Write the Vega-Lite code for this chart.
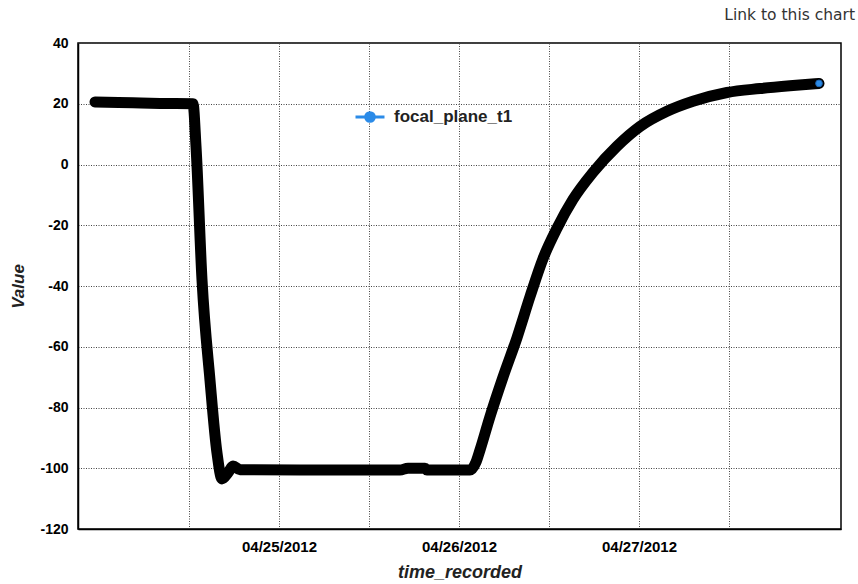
{
  "$schema": "https://vega.github.io/schema/vega-lite/v6.json",
  "width": 763,
  "height": 486,
  "autosize": {"type": "none"},
  "padding": {"left": 78, "top": 43, "right": 17, "bottom": 55},
  "background": "white",
  "title": {
    "text": "Link to this chart",
    "anchor": "end",
    "frame": "group",
    "dx": 14,
    "offset": 13,
    "font": "DejaVu Sans",
    "fontSize": 15.5,
    "fontWeight": "normal",
    "color": "#333333"
  },
  "config": {
    "view": {"stroke": "black", "strokeWidth": 1.5},
    "axis": {
      "domainColor": "black",
      "domainWidth": 1.5,
      "ticks": false,
      "tickSize": 0,
      "gridColor": "#444444",
      "gridDash": [1, 1.5],
      "gridWidth": 1,
      "labelFont": "Liberation Sans",
      "labelFontSize": 14,
      "labelFontWeight": "bold",
      "labelColor": "black",
      "titleFont": "Liberation Sans",
      "titleFontSize": 17,
      "titleFontWeight": "bold",
      "titleFontStyle": "italic",
      "titleColor": "#222222"
    }
  },
  "layer": [
    {
      "data": {
        "values": [
          {"time_recorded": "2012-04-23T23:28:00Z", "value": 20.6, "series": "focal_plane_t1"},
          {"time_recorded": "2012-04-24T04:32:00Z", "value": 20.3, "series": "focal_plane_t1"},
          {"time_recorded": "2012-04-24T08:08:00Z", "value": 20.1, "series": "focal_plane_t1"},
          {"time_recorded": "2012-04-24T12:32:00Z", "value": 20.0, "series": "focal_plane_t1"},
          {"time_recorded": "2012-04-24T12:56:00Z", "value": 6.0, "series": "focal_plane_t1"},
          {"time_recorded": "2012-04-24T13:44:00Z", "value": -38.0, "series": "focal_plane_t1"},
          {"time_recorded": "2012-04-24T14:48:00Z", "value": -71.0, "series": "focal_plane_t1"},
          {"time_recorded": "2012-04-24T15:44:00Z", "value": -95.0, "series": "focal_plane_t1"},
          {"time_recorded": "2012-04-24T16:24:00Z", "value": -103.5, "series": "focal_plane_t1"},
          {"time_recorded": "2012-04-24T17:12:00Z", "value": -101.5, "series": "focal_plane_t1"},
          {"time_recorded": "2012-04-24T17:52:00Z", "value": -99.3, "series": "focal_plane_t1"},
          {"time_recorded": "2012-04-24T18:48:00Z", "value": -100.5, "series": "focal_plane_t1"},
          {"time_recorded": "2012-04-25T02:48:00Z", "value": -100.6, "series": "focal_plane_t1"},
          {"time_recorded": "2012-04-25T16:08:00Z", "value": -100.6, "series": "focal_plane_t1"},
          {"time_recorded": "2012-04-25T17:12:00Z", "value": -100.0, "series": "focal_plane_t1"},
          {"time_recorded": "2012-04-25T19:28:00Z", "value": -100.0, "series": "focal_plane_t1"},
          {"time_recorded": "2012-04-25T19:44:00Z", "value": -100.6, "series": "focal_plane_t1"},
          {"time_recorded": "2012-04-26T01:28:00Z", "value": -100.6, "series": "focal_plane_t1"},
          {"time_recorded": "2012-04-26T02:16:00Z", "value": -98.0, "series": "focal_plane_t1"},
          {"time_recorded": "2012-04-26T02:48:00Z", "value": -94.0, "series": "focal_plane_t1"},
          {"time_recorded": "2012-04-26T04:08:00Z", "value": -83.0, "series": "focal_plane_t1"},
          {"time_recorded": "2012-04-26T05:52:00Z", "value": -70.0, "series": "focal_plane_t1"},
          {"time_recorded": "2012-04-26T07:44:00Z", "value": -57.0, "series": "focal_plane_t1"},
          {"time_recorded": "2012-04-26T09:28:00Z", "value": -43.5, "series": "focal_plane_t1"},
          {"time_recorded": "2012-04-26T11:12:00Z", "value": -31.0, "series": "focal_plane_t1"},
          {"time_recorded": "2012-04-26T13:04:00Z", "value": -21.0, "series": "focal_plane_t1"},
          {"time_recorded": "2012-04-26T15:12:00Z", "value": -11.5, "series": "focal_plane_t1"},
          {"time_recorded": "2012-04-26T17:52:00Z", "value": -2.6, "series": "focal_plane_t1"},
          {"time_recorded": "2012-04-26T21:04:00Z", "value": 6.0, "series": "focal_plane_t1"},
          {"time_recorded": "2012-04-27T00:08:00Z", "value": 12.5, "series": "focal_plane_t1"},
          {"time_recorded": "2012-04-27T03:44:00Z", "value": 17.5, "series": "focal_plane_t1"},
          {"time_recorded": "2012-04-27T07:12:00Z", "value": 20.8, "series": "focal_plane_t1"},
          {"time_recorded": "2012-04-27T11:44:00Z", "value": 23.7, "series": "focal_plane_t1"},
          {"time_recorded": "2012-04-27T16:08:00Z", "value": 25.0, "series": "focal_plane_t1"},
          {"time_recorded": "2012-04-27T20:32:00Z", "value": 26.0, "series": "focal_plane_t1"},
          {"time_recorded": "2012-04-28T00:00:00Z", "value": 26.7, "series": "focal_plane_t1"}
        ]
      },
      "mark": {"type": "line", "color": "black", "strokeWidth": 11, "strokeCap": "round", "strokeJoin": "round", "interpolate": "monotone"},
      "encoding": {
        "x": {
          "field": "time_recorded",
          "type": "temporal",
          "scale": {"type": "utc", "domain": ["2012-04-23T21:12:00Z", "2012-04-28T02:56:00Z"], "nice": false},
          "axis": {
            "title": "time_recorded",
            "values": [
              {"year": 2012, "month": 4, "date": 24, "hours": 12, "utc": true},
              {"year": 2012, "month": 4, "date": 25, "hours": 0, "utc": true},
              {"year": 2012, "month": 4, "date": 25, "hours": 12, "utc": true},
              {"year": 2012, "month": 4, "date": 26, "hours": 0, "utc": true},
              {"year": 2012, "month": 4, "date": 26, "hours": 12, "utc": true},
              {"year": 2012, "month": 4, "date": 27, "hours": 0, "utc": true},
              {"year": 2012, "month": 4, "date": 27, "hours": 12, "utc": true}
            ],
            "labelExpr": "utchours(datum.value) == 0 ? utcFormat(datum.value, '%m/%d/%Y') : ''",
            "labelFontSize": 15,
            "labelPadding": 10,
            "titlePadding": 9,
            "titleFontSize": 18,
            "labelFlush": false,
            "labelOverlap": false
          }
        },
        "y": {
          "field": "value",
          "type": "quantitative",
          "scale": {"domain": [-120, 40], "nice": false, "zero": false},
          "axis": {
            "title": "Value",
            "values": [-120, -100, -80, -60, -40, -20, 0, 20, 40],
            "labelExpr": "'' + datum.value",
            "labelPadding": 10,
            "titlePadding": 12,
            "labelFlush": false
          }
        }
      }
    },
    {
      "data": {
        "values": [
          {"time_recorded": "2012-04-28T00:00:00Z", "value": 26.7, "series": "focal_plane_t1"}
        ]
      },
      "mark": {"type": "point", "filled": true, "size": 45, "stroke": "#1c63b0", "strokeWidth": 1, "opacity": 1},
      "encoding": {
        "x": {"field": "time_recorded", "type": "temporal"},
        "y": {"field": "value", "type": "quantitative"},
        "color": {
          "field": "series",
          "type": "nominal",
          "scale": {"range": ["#2b8be8"]},
          "legend": {
            "title": null,
            "orient": "none",
            "legendX": 276,
            "legendY": 58,
            "padding": 0,
            "symbolType": "M-1,0H1M-0.3,0A0.3,0.3,0,1,1,0.3,0A0.3,0.3,0,1,1,-0.3,0Z",
            "symbolSize": 840,
            "symbolStrokeWidth": 3,
            "symbolStrokeColor": "#2b8be8",
            "symbolFillColor": "#2b8be8",
            "symbolOpacity": 1,
            "labelFont": "Liberation Sans",
            "labelFontSize": 17,
            "labelFontWeight": "bold",
            "labelColor": "#222222",
            "labelOffset": 8,
            "encode": {
              "symbols": {
                "update": {
                  "stroke": {"value": "#2b8be8"},
                  "fill": {"value": "#2b8be8"},
                  "strokeWidth": {"value": 3},
                  "opacity": {"value": 1}
                }
              }
            }
          }
        }
      }
    }
  ]
}
